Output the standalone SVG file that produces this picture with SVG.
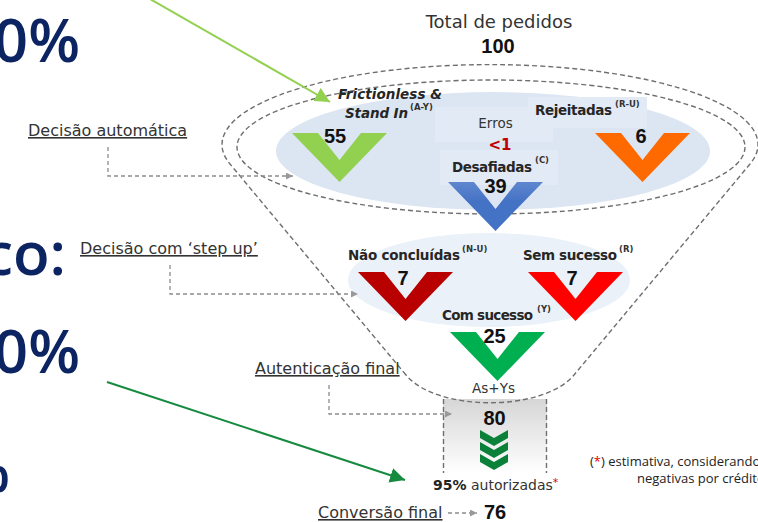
<svg xmlns="http://www.w3.org/2000/svg" width="758" height="522" viewBox="0 0 758 522">
<style>
.big{font-family:"Open Sans","DejaVu Sans",sans-serif;font-size:60px;font-weight:600;fill:#0c2461}
.lbl{font-family:"DejaVu Sans",Verdana,sans-serif;font-size:13.5px;font-weight:bold;fill:#262626}
.reg{font-family:"DejaVu Sans",Verdana,sans-serif;fill:#333}
.num{font-family:"Liberation Sans",Arial,sans-serif;font-weight:bold;font-size:20px;fill:#111;text-anchor:middle}
.sup{font-family:"DejaVu Sans",Verdana,sans-serif;font-size:8.5px;font-weight:bold;fill:#333}
.ul{font-family:"DejaVu Sans",Verdana,sans-serif;font-size:16px;fill:#333;text-decoration:underline}
.dash{fill:none;stroke:#6f6f6f;stroke-width:1.4;stroke-dasharray:5 3}
.conn{fill:none;stroke:#8c8c8c;stroke-width:1.3;stroke-dasharray:4 3}
.foot{font-family:"Open Sans","Liberation Sans",sans-serif;font-size:13px;fill:#222}
</style>
<defs>
<marker id="mGray" markerUnits="userSpaceOnUse" markerWidth="8" markerHeight="8" refX="7" refY="3.5" orient="auto"><path d="M0,0 L7,3.5 L0,7 z" fill="#999"/></marker>
<marker id="mLight" markerUnits="userSpaceOnUse" markerWidth="16" markerHeight="16" refX="15" refY="7.5" orient="auto"><path d="M0,0 L15,7.5 L0,15 z" fill="#92d050"/></marker>
<marker id="mDark" markerUnits="userSpaceOnUse" markerWidth="16" markerHeight="16" refX="15" refY="7.5" orient="auto"><path d="M0,0 L15,7.5 L0,15 z" fill="#168a3f"/></marker>
<linearGradient id="gBox" x1="0" y1="0" x2="0" y2="1"><stop offset="0" stop-color="#d6d6d6"/><stop offset="1" stop-color="#ffffff"/></linearGradient>
<linearGradient id="gBlue" x1="0" y1="0" x2="0" y2="1"><stop offset="0" stop-color="#5f87cf"/><stop offset="0.4" stop-color="#4472c4"/></linearGradient>
<polygon id="vee" points="0,0 26,0 47.5,27 69,0 95,0 47.5,49"/>
<polygon id="chev" points="0,0 14,8 28,0 28,8 14,16 0,8"/>
</defs>
<rect width="758" height="522" fill="#fff"/>

<g id="left-text">
<text class="big" x="80" y="62" text-anchor="end">0%</text>
<text class="big" x="66" y="275" text-anchor="end">co:</text>
<text class="big" x="80" y="373" text-anchor="end">0%</text>
<text class="big" x="10" y="492" text-anchor="end">%</text>
</g>

<g id="backgrounds">
<ellipse cx="493" cy="151" rx="217" ry="59" fill="#dce6f2"/>
<rect x="435" y="107" width="118" height="35" fill="#e2eaf5"/>
<rect x="440" y="150" width="118" height="35" fill="#e2eaf5"/>
<rect x="528" y="97" width="119" height="31" fill="#e2eaf5"/>
<ellipse cx="489" cy="280" rx="141" ry="47" fill="#eaf1f8"/>
<rect x="443" y="399" width="104" height="74" fill="url(#gBox)"/>
<line class="dash" x1="443.5" y1="399" x2="443.5" y2="473"/>
<line class="dash" x1="546.5" y1="399" x2="546.5" y2="473"/>
</g>

<g id="funnel">
<path class="dash" d="M406,375 L230,164 A268,80 0 1 1 750,164 L574,375 C543,412 437,412 406,375 Z"/>
<ellipse class="dash" cx="491" cy="147" rx="254" ry="67"/>
</g>

<g id="total">
<text class="reg" x="499" y="28" font-size="18" text-anchor="middle">Total de pedidos</text>
<text class="num" x="498" y="53" font-size="21">100</text>
</g>

<g id="frictionless">
<use href="#vee" x="292" y="133" fill="#92d050"/>
<text class="lbl" x="338" y="99" font-style="italic" textLength="104">Frictionless &amp;</text>
<text class="lbl" x="345" y="118" font-style="italic" textLength="63">Stand In</text>
<text class="sup" x="410" y="110">(A-Y)</text>
<text class="num" x="335" y="143">55</text>
</g>

<g id="erros">
<text class="reg" x="495.5" y="128" font-size="13.5" text-anchor="middle">Erros</text>
<text class="lbl" x="500" y="150" style="fill:#c00000;font-size:15px" text-anchor="middle">&lt;1</text>
</g>

<g id="desafiadas">
<use href="#vee" x="448" y="182" fill="url(#gBlue)"/>
<text class="lbl" x="452" y="172" textLength="80">Desafiadas</text>
<text class="sup" x="535" y="163">(C)</text>
<text class="num" x="495.5" y="193">39</text>
</g>

<g id="rejeitadas">
<use href="#vee" x="595" y="133" fill="#ff6a00"/>
<text class="lbl" x="535" y="115" textLength="77">Rejeitadas</text>
<text class="sup" x="615" y="107">(R-U)</text>
<text class="num" x="641" y="143">6</text>
</g>

<g id="nao-concluidas">
<use href="#vee" x="358" y="272" fill="#b80000"/>
<text class="lbl" x="348" y="260" textLength="112">Não concluídas</text>
<text class="sup" x="462" y="252">(N-U)</text>
<text class="num" x="403" y="285">7</text>
</g>

<g id="sem-sucesso">
<use href="#vee" x="528" y="272" fill="#ff0000"/>
<text class="lbl" x="523" y="260" textLength="94">Sem sucesso</text>
<text class="sup" x="619" y="252">(R)</text>
<text class="num" x="572" y="285">7</text>
</g>

<g id="com-sucesso">
<use href="#vee" x="450" y="332" fill="#00b050"/>
<text class="lbl" x="442" y="320" textLength="91">Com sucesso</text>
<text class="sup" x="537" y="312">(Y)</text>
<text class="num" x="494.5" y="343">25</text>
<text class="reg" x="493.5" y="393" font-size="13.5" text-anchor="middle">As+Ys</text>
</g>

<g id="autorizadas">
<text class="num" x="494.5" y="425">80</text>
<use href="#chev" x="480" y="430" fill="#0a8038"/>
<use href="#chev" x="480" y="442" fill="#0a8038"/>
<use href="#chev" x="480" y="454" fill="#0a8038"/>
<text class="reg" x="433" y="490" font-size="14"><tspan font-weight="bold" fill="#222">95%</tspan> autorizadas<tspan fill="#e00000" font-size="11" dy="-4">*</tspan></text>
</g>

<g id="conversao">
<text class="ul" x="318" y="518">Conversão final</text>
<text class="num" x="495" y="519" font-size="22">76</text>
</g>

<g id="labels">
<text class="ul" x="28" y="136">Decisão automática</text>
<text class="ul" x="80" y="254">Decisão com ‘step up’</text>
<text class="ul" x="255" y="374">Autenticação final</text>
</g>

<g id="footnote">
<text class="foot" x="590" y="466">(<tspan fill="#e00000">*</tspan>) estimativa, considerando</text>
<text class="foot" x="637" y="483">negativas por crédito</text>
</g>

<g id="connectors">
<path class="conn" d="M108,147 V176 H293" marker-end="url(#mGray)"/>
<path class="conn" d="M170,265 V294 H358" marker-end="url(#mGray)"/>
<path class="conn" d="M329,385 V414 H452" marker-end="url(#mGray)"/>
<path class="conn" d="M448,513 H477" marker-end="url(#mGray)"/>
<line x1="150" y1="-1" x2="330" y2="102" stroke="#92d050" stroke-width="2" marker-end="url(#mLight)"/>
<line x1="107" y1="382" x2="405" y2="480" stroke="#168a3f" stroke-width="2" marker-end="url(#mDark)"/>
</g>
</svg>
